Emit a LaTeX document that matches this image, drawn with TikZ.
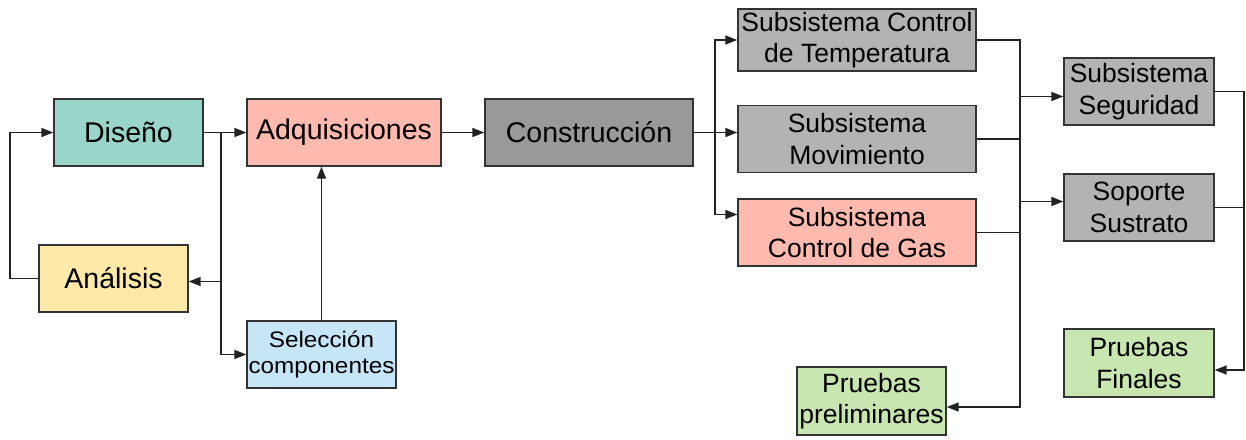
\documentclass[tikz,border=0pt]{standalone}
\usepackage{fontspec}
\setmainfont{Liberation Sans}
\newfontfamily\selfont[FakeStretch=1.08]{Liberation Sans}
\usetikzlibrary{arrows.meta}
\definecolor{bordercol}{HTML}{333333}
\definecolor{linecol}{HTML}{222222}
\definecolor{teal}{HTML}{9AD5C9}
\definecolor{yel}{HTML}{FFE9A8}
\definecolor{salmon}{HTML}{FFBAB0}
\definecolor{lblue}{HTML}{C6E6F8}
\definecolor{dgray}{HTML}{999999}
\definecolor{lgray}{HTML}{B3B3B3}
\definecolor{lgreen}{HTML}{C8E6B0}
\tikzset{
  box/.style={draw=bordercol, line width=1.4pt, inner sep=0pt, align=center, text=black},
  bigtxt/.style={font=\fontsize{28.5}{34}\selectfont},
  midtxt/.style={font=\fontsize{26.5}{31.5}\selectfont},
  smalltxt/.style={font=\selfont\fontsize{22.5}{26.5}\selectfont},
  line/.style={draw=linecol, line width=1.6pt},
  arr/.style={line, -{Triangle[length=12pt,width=9pt]}}
}
\begin{document}
\begin{tikzpicture}[x=1pt,y=-1pt]
\useasboundingbox (0,0) rectangle (1246,439);
% nodes
\node[box,bigtxt,fill=teal,minimum width=149pt,minimum height=67pt] (dis) at (128.5,132.5) {Diseño};
\node[box,bigtxt,fill=yel,minimum width=149pt,minimum height=67pt] (ana) at (113.5,278.5) {Análisis};
\node[box,bigtxt,fill=salmon,minimum width=194pt,minimum height=67pt] (adq) at (344,132.5) {Adquisiciones};
\node[box,smalltxt,fill=lblue,minimum width=149pt,minimum height=67pt] (sel) at (321.5,354.5) {Selección\\componentes};
\node[box,bigtxt,fill=dgray,minimum width=208pt,minimum height=67pt] (con) at (589,132.5) {Construcción};
\node[box,midtxt,fill=lgray,minimum width=238pt,minimum height=62pt] (tmp) at (857,40) {Subsistema Control\\de Temperatura};
\node[box,midtxt,fill=lgray,minimum width=238pt,minimum height=67pt] (mov) at (857,139) {Subsistema\\Movimiento};
\node[box,midtxt,fill=salmon,minimum width=238pt,minimum height=67pt] (gas) at (857,232.5) {Subsistema\\Control de Gas};
\node[box,midtxt,fill=lgray,minimum width=150pt,minimum height=67pt] (seg) at (1139,91.5) {Subsistema\\Seguridad};
\node[box,midtxt,fill=lgray,minimum width=150pt,minimum height=67pt] (sop) at (1139,207.5) {Soporte\\Sustrato};
\node[box,midtxt,fill=lgreen,minimum width=150pt,minimum height=68pt] (fin) at (1139,363) {Pruebas\\Finales};
\node[box,midtxt,fill=lgreen,minimum width=149pt,minimum height=68pt] (pre) at (871.5,401) {Pruebas\\preliminares};
% junction coordinates
\coordinate (j0) at (10,132.5);
\coordinate (j1) at (221,132.5);
\coordinate (j2) at (715,132.5);
\coordinate (j3) at (1020,407);
\coordinate (j4) at (1244,370);
% connectors
\draw[arr] (dis.east) -- (adq.west);
\draw[arr] (j1) |- ([yshift=-3pt]ana.east);
\draw[arr] (j1) |- (sel.west);
\draw[arr] (ana.west) -- (ana.west -| j0) |- (dis.west);
\draw[arr] (sel.north) -- (sel.north |- adq.south);
\draw[arr] (adq.east) -- (con.west);
\draw[arr] (con.east) -- (con.east -| mov.west);
\draw[arr] (j2) |- (tmp.west);
\draw[arr] (j2) |- ([yshift=18pt]gas.west);
\draw[arr] (tmp.east) -| (j3) -- ([yshift=-6pt]pre.east);
\draw[line] (mov.east) -- (mov.east -| j3);
\draw[line] (gas.east) -- (gas.east -| j3);
\draw[arr] ([yshift=-5pt]seg.west -| j3) -- ([yshift=-5pt]seg.west);
\draw[arr] ([yshift=6pt]sop.west -| j3) -- ([yshift=6pt]sop.west);
\draw[arr] (seg.east) -| (j4) -- ([yshift=-7pt]fin.east);
\draw[line] (sop.east) -- (sop.east -| j4);
\end{tikzpicture}
\end{document}
